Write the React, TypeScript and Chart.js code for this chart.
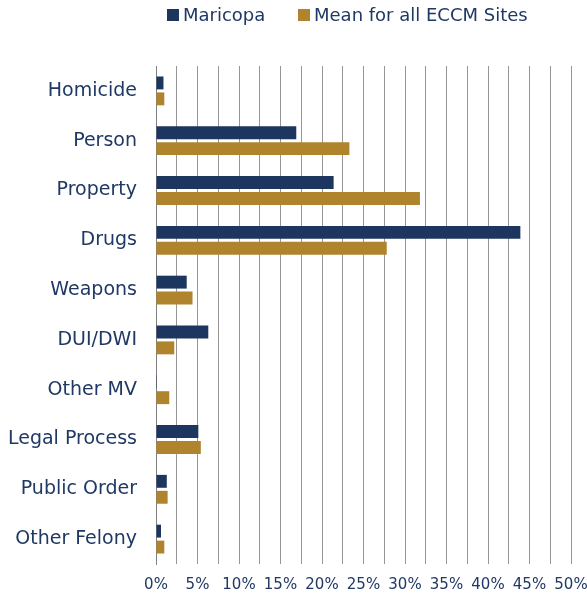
import React, { useEffect, useRef } from "react";
import { Chart, registerables } from "chart.js";

Chart.register(...registerables);

const categories = [
  "Homicide",
  "Person",
  "Property",
  "Drugs",
  "Weapons",
  "DUI/DWI",
  "Other MV",
  "Legal Process",
  "Public Order",
  "Other Felony",
];
const maricopa = [0.9, 16.9, 21.4, 43.9, 3.7, 6.3, 0.1, 5.1, 1.3, 0.6];
const meanAll = [1.0, 23.3, 31.8, 27.8, 4.4, 2.2, 1.6, 5.4, 1.4, 1.0];
const seriesNames = ["Maricopa", "Mean for all ECCM Sites"];

const NAVY = "#1D3660";
const GOLD = "#AF842D";
const TEXT = "#1F3864";
const FONT = "'DejaVu Sans', Verdana, sans-serif";

export default function App() {
  const ref = useRef<HTMLCanvasElement | null>(null);

  useEffect(() => {
    if (!ref.current) return;
    const chart = new Chart(ref.current, {
      type: "bar",
      data: {
        labels: categories,
        datasets: [
          {
            label: seriesNames[0],
            data: maricopa,
            backgroundColor: NAVY,
            categoryPercentage: 0.64,
            barPercentage: 0.81,
          },
          {
            label: seriesNames[1],
            data: meanAll,
            backgroundColor: GOLD,
            categoryPercentage: 0.64,
            barPercentage: 0.81,
          },
        ],
      },
      options: {
        indexAxis: "y",
        animation: false,
        responsive: false,
        maintainAspectRatio: false,
        layout: { padding: { top: 66, right: 0, bottom: 6, left: 0 } },
        plugins: {
          legend: { display: false },
          tooltip: { enabled: false },
        },
        scales: {
          x: {
            min: 0,
            max: 50,
            border: { display: false },
            grid: {
              drawTicks: false,
              color: (ctx: any) => (ctx.index === 0 ? "rgba(0,0,0,0)" : "#969696"),
              lineWidth: 1,
            },
            ticks: {
              stepSize: 2.5,
              autoSkip: false,
              maxRotation: 0,
              minRotation: 0,
              padding: 12,
              color: TEXT,
              font: { family: FONT, size: 15 },
              callback: (v: any) => (Number(v) % 5 === 0 ? `${v}%` : ""),
            },
            afterFit: (s: any) => {
              s.height = 29;
              s.paddingRight = 16;
              s.paddingLeft = 0;
            },
          },
          y: {
            border: { display: true, color: "#808080", width: 1 },
            grid: { display: false, drawTicks: false },
            ticks: {
              padding: 19,
              color: TEXT,
              font: { family: FONT, size: 19 },
            },
            afterFit: (s: any) => {
              s.width = 156;
            },
          },
        },
      },
    });
    return () => chart.destroy();
  }, []);

  const legendText: React.CSSProperties = {
    position: "absolute",
    top: 4,
    fontFamily: FONT,
    fontSize: 18,
    lineHeight: "22px",
    color: TEXT,
    whiteSpace: "nowrap",
  };
  const box: React.CSSProperties = {
    position: "absolute",
    top: 9,
    width: 12,
    height: 12,
  };

  return (
    <div style={{ position: "absolute", left: 0, top: 0, width: 587, height: 599, background: "#fff" }}>
      <canvas ref={ref} width={587} height={599} style={{ position: "absolute", left: 0, top: 0 }} />
      <div style={{ ...box, left: 167, background: NAVY }} />
      <div style={{ ...legendText, left: 183 }}>{seriesNames[0]}</div>
      <div style={{ ...box, left: 298, background: GOLD }} />
      <div style={{ ...legendText, left: 314 }}>{seriesNames[1]}</div>
    </div>
  );
}
